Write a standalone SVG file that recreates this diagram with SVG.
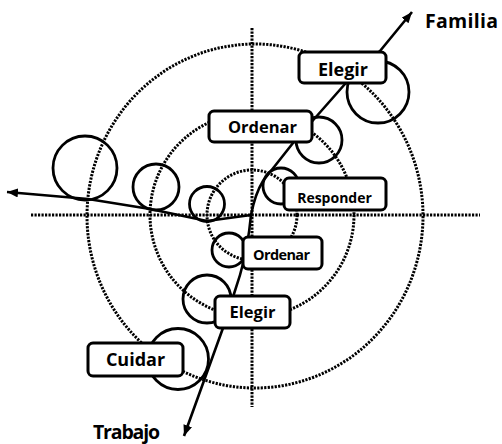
<svg xmlns="http://www.w3.org/2000/svg" width="502" height="444" viewBox="0 0 502 444">
<style>
.dot{fill:none;stroke:#000;stroke-width:3;stroke-dasharray:2.2 1.3}
.ring{fill:none;stroke:#000;stroke-width:2.8}
.conn{fill:none;stroke:#000;stroke-width:2.6;stroke-linejoin:round}
.box{fill:#fff;stroke:#000;stroke-width:3}
.t{font-family:"Open Sans","Noto Sans","Liberation Sans",sans-serif;font-weight:700;fill:#000;text-anchor:middle}
</style>
<defs>
<marker id="ah" markerUnits="userSpaceOnUse" markerWidth="12" markerHeight="10" refX="11" refY="4.5" orient="auto">
<path d="M0,0 L11,4.5 L0,9 z" fill="#000"/>
</marker>
</defs>
<g id="axes">
<line class="dot" x1="31" y1="215" x2="480" y2="215"/>
<line class="dot" x1="252" y1="28" x2="252" y2="407"/>
<ellipse class="dot" cx="255" cy="216" rx="168" ry="172"/>
<circle class="dot" cx="252" cy="215" r="102"/>
<circle class="dot" cx="252" cy="215" r="45"/>
</g>
<g id="rings">
<circle class="ring" cx="85" cy="168" r="32"/>
<circle class="ring" cx="156" cy="187" r="23"/>
<circle class="ring" cx="207" cy="204" r="17.5"/>
<circle class="ring" cx="281" cy="186" r="18"/>
<circle class="ring" cx="229" cy="250" r="17"/>
<circle class="ring" cx="319" cy="140" r="23"/>
<circle class="ring" cx="378" cy="92" r="31"/>
<circle class="ring" cx="207" cy="299" r="24"/>
<circle class="ring" cx="178" cy="359" r="30.5"/>
</g>
<g id="connectors">
<path class="conn" d="M251,215 Q255,194 263,181 L293,143 L345,84 L380,51 L412,12" marker-end="url(#ah)"/>
<path class="conn" d="M251,215 C249,236 245,258 240,275 L233,297 L223,328 L184,436" marker-end="url(#ah)"/>
<path class="conn" d="M251,215 L207,221 L150,209 L88,199 L7,192" marker-end="url(#ah)"/>
</g>
<g id="n-elegir-familia">
<rect class="box" x="299" y="52" width="87" height="31" rx="5"/>
<text class="t" x="343" y="76" font-size="18">Elegir</text>
</g>
<g id="n-ordenar-familia">
<rect class="box" x="209" y="111" width="103" height="31" rx="5"/>
<text class="t" x="262.5" y="133" font-size="16.5">Ordenar</text>
</g>
<g id="n-responder">
<rect class="box" x="284" y="178" width="102" height="32" rx="5"/>
<text class="t" x="334.5" y="203" font-size="14">Responder</text>
</g>
<g id="n-ordenar-trabajo">
<rect class="box" x="243" y="237" width="79" height="32" rx="5"/>
<text class="t" x="281.5" y="260" font-size="14.5" textLength="57">Ordenar</text>
</g>
<g id="n-elegir-trabajo">
<rect class="box" x="215" y="296" width="75" height="32" rx="5"/>
<text class="t" x="252.5" y="318" font-size="16.5">Elegir</text>
</g>
<g id="n-cuidar">
<rect class="box" x="88" y="343" width="95" height="33" rx="5"/>
<text class="t" x="135.5" y="366" font-size="18">Cuidar</text>
</g>
<g id="n-familia">
<text class="t" x="461.5" y="28" font-size="19.5" textLength="73">Familia</text>
</g>
<g id="n-trabajo">
<text class="t" x="126.5" y="439" font-size="19.5" textLength="67">Trabajo</text>
</g>
</svg>
